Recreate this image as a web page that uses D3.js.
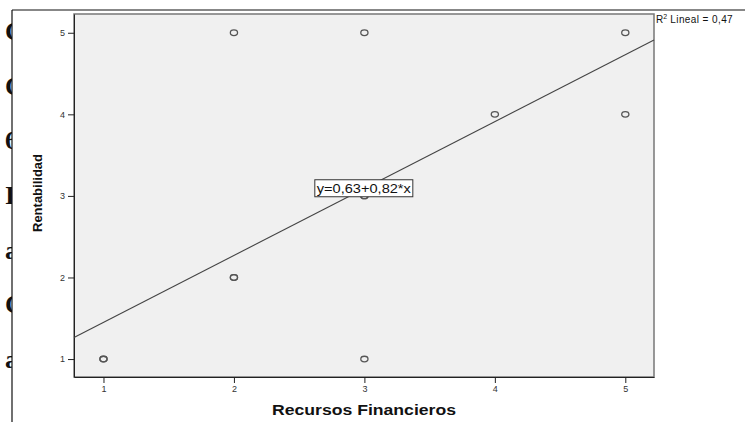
<!DOCTYPE html>
<html lang="es">
<head>
<meta charset="utf-8">
<title>Rentabilidad vs Recursos Financieros</title>
<script src="https://d3js.org/d3.v7.min.js"></script>
<style>
  body { margin: 0; background: #fff; }
  .axis path, .axis line { stroke: #222; }
  .axis text { font-family: "Liberation Sans", Arial, sans-serif; font-size: 9px; fill: #333; }
</style>
</head>
<body>
<script>
const w = 745, h = 422;

// data
const recursos = [1, 1, 2, 2, 2, 3, 3, 3, 3, 4, 5, 5];
const rentab   = [1, 1, 2, 2, 5, 5, 3, 3, 1, 4, 5, 4];
const xTicks = [1, 2, 3, 4, 5];
const yTicks = [1, 2, 3, 4, 5];
const fitA = 0.63, fitB = 0.82;
const fitLabel = "y=0,63+0,82*x";
const r2Label = "Lineal = 0,47";
const sideLetters = ["C", "C", "6", "I", "a", "C", "a"];

const plot = {left: 74, right: 654, top: 14, bottom: 377};

const svg = d3.select("body").append("svg")
    .attr("width", w).attr("height", h);

// letters of the document behind, clipped by the frame
const sideY = d3.scalePoint().domain(d3.range(sideLetters.length)).range([40, 368]);
svg.append("g").selectAll("text").data(sideLetters).join("text")
    .attr("x", 5).attr("y", (d, i) => sideY(i))
    .attr("font-family", "Liberation Serif, serif")
    .attr("font-size", "26px").attr("font-weight", "bold").attr("fill", "#111")
    .text(d => d);
svg.append("rect").attr("x", 12).attr("y", 0).attr("width", w).attr("height", h).attr("fill", "#fff");
svg.append("line").attr("x1", 12).attr("y1", 10).attr("x2", w).attr("y2", 10)
    .attr("stroke", "#111").attr("stroke-width", 1.2);
svg.append("line").attr("x1", 12).attr("y1", 10).attr("x2", 12).attr("y2", h)
    .attr("stroke", "#111").attr("stroke-width", 1.2);

const xScale = d3.scaleLinear().domain([0.774, 5.22]).range([plot.left, plot.right]);
const yScale = d3.scaleLinear().domain([0.78, 5.23]).range([plot.bottom, plot.top]);

svg.append("rect")
    .attr("x", plot.left).attr("y", plot.top)
    .attr("width", plot.right - plot.left).attr("height", plot.bottom - plot.top)
    .attr("fill", "#f0f0f0").attr("stroke", "#777").attr("stroke-width", 1.5);

svg.append("g").attr("class", "axis")
    .attr("transform", "translate(0," + plot.bottom + ")")
    .call(d3.axisBottom(xScale).tickValues(xTicks).tickFormat(d3.format("d"))
        .tickSize(6).tickSizeOuter(0).tickPadding(3));
svg.append("g").attr("class", "axis")
    .attr("transform", "translate(" + plot.left + ",0)")
    .call(d3.axisLeft(yScale).tickValues(yTicks).tickFormat(d3.format("d"))
        .tickSize(6).tickSizeOuter(0).tickPadding(3));

// fit line
const xd = xScale.domain();
const fit = d3.line().x(d => xScale(d)).y(d => yScale(fitA + fitB * d));
svg.append("path").attr("d", fit(xd))
    .attr("fill", "none").attr("stroke", "#444").attr("stroke-width", 1.1);

// points
svg.append("g").selectAll("ellipse").data(recursos).join("ellipse")
    .attr("cx", d => xScale(d))
    .attr("cy", (d, i) => yScale(rentab[i]))
    .attr("rx", 3.6).attr("ry", 2.8)
    .attr("fill", "none").attr("stroke", "#555").attr("stroke-width", 1.3);

// equation label
const lab = svg.append("g").attr("transform", "translate(" + xScale(2.62) + "," + yScale(3.1) + ")");
lab.append("rect").attr("x", 0).attr("y", -8).attr("width", 98).attr("height", 17)
    .attr("fill", "#fff").attr("stroke", "#333");
lab.append("text").attr("x", 2).attr("y", 5)
    .attr("font-family", "Liberation Sans, Arial, sans-serif").attr("font-size", "12px").attr("fill", "#111")
    .attr("textLength", 94).attr("lengthAdjust", "spacingAndGlyphs")
    .text(fitLabel);

// R2
const r2 = svg.append("text").attr("x", plot.right + 2).attr("y", 23)
    .attr("font-family", "Liberation Sans, Arial, sans-serif").attr("font-size", "10px").attr("fill", "#111");
r2.append("tspan").text("R");
r2.append("tspan").attr("dy", -4).attr("font-size", "7px").text("2");
r2.append("tspan").attr("dy", 4).attr("letter-spacing", "0.4px").text(" " + r2Label);

// axis titles
svg.append("text")
    .attr("x", 364).attr("y", 415)
    .attr("text-anchor", "middle")
    .attr("font-family", "Liberation Sans, Arial, sans-serif").attr("font-size", "14px")
    .attr("font-weight", "bold").attr("fill", "#111")
    .attr("textLength", 184).attr("lengthAdjust", "spacingAndGlyphs")
    .text("Recursos Financieros");
svg.append("text")
    .attr("transform", "translate(42,193) rotate(-90)")
    .attr("text-anchor", "middle")
    .attr("font-family", "Liberation Sans Narrow, Arial Narrow, sans-serif").attr("font-size", "13px")
    .attr("font-weight", "bold").attr("fill", "#111")
    .text("Rentabilidad");
</script>
</body>
</html>
